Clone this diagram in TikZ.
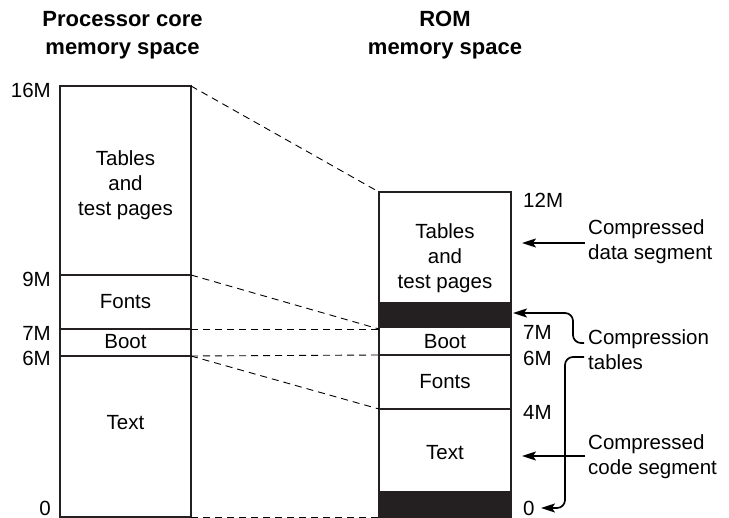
\documentclass[tikz,border=0pt]{standalone}
\usepackage{fontspec}
\setmainfont{Liberation Sans}
\usetikzlibrary{arrows.meta,positioning,calc}
\definecolor{romink}{rgb}{0.14,0.12,0.13}

\begin{document}
\begin{tikzpicture}[x=1pt,y=-1pt,font=\fontsize{20.5}{25}\selectfont,
  memtxt/.style={align=center,inner sep=0pt},
  title/.style={align=center,inner sep=0pt,font=\fontsize{22}{28}\selectfont\bfseries},
  addr/.style={inner sep=0pt},
  mapline/.style={line width=0.9pt,dash pattern=on 7pt off 5pt},
  arr/.style={-{Stealth[length=14pt,width=9pt,inset=3pt]},line width=1.7pt}]
  \useasboundingbox (0,0) rectangle (729,518);
  % processor core map
  \draw[romink,line width=2pt] (60,86) rectangle (191,517);
  \foreach \y in {275,329,356} \draw[romink,line width=1.6pt] (60,\y) -- (191,\y);
  % ROM map
  \fill[romink] (379,302) rectangle (511,328);
  \fill[romink] (379,491) rectangle (511,517);
  \draw[romink,line width=2pt] (379,192) rectangle (511,517);
  \foreach \y in {355,409} \draw[romink,line width=1.6pt] (379,\y) -- (511,\y);

  \node[title] (ptitle) at (122.5,35) {Processor core\\memory space};
  \node[title] (rtitle) at (445,35) {ROM\\memory space};

  \node[memtxt] (ptab) at (125.5,185) {Tables\\and\\test pages};
  \node[memtxt] (pfont) at (125.5,302) {Fonts};
  \node[memtxt] (pboot) at (125.5,342) {Boot};
  \node[memtxt] (ptext) at (125.5,423) {Text};
  \node[memtxt] (rtab) at (445,258) {Tables\\and\\test pages};
  \node[memtxt] (rboot) at (445,342) {Boot};
  \node[memtxt] (rfont) at (445,382) {Fonts};
  \node[memtxt] (rtext) at (445,453) {Text};

  % addresses
  \foreach \n/\a/\y in {p16/16M/90,p9/9M/279,p7/7M/333,p6/6M/358,p0/0/508}
    \node[addr,anchor=east] (\n) at (51,\y) {\a};
  \foreach \n/\a/\y in {r12/12M/200,r7/7M/332,r6/6M/358,r4/4M/412,r0/0/508}
    \node[addr,anchor=west] (\n) at (523,\y) {\a};

  % mapping between the two spaces
  \coordinate (lp16) at (191,86);  \coordinate (rp12) at (379,192);
  \coordinate (lp9) at (191,275);  \coordinate (rp7) at (379,329);
  \coordinate (lp7) at (191,329);  \coordinate (rp6) at (379,355);
  \coordinate (lp6) at (191,356);  \coordinate (rp4) at (379,409);
  \coordinate (lp0) at (191,517);  \coordinate (rp0) at (379,517);
  \draw[mapline] (lp16) -- (rp12);
  \draw[mapline] (lp9) -- (rp7);
  \draw[mapline] (lp7) -- (rp7);
  \draw[mapline] (lp6) -- (rp6);
  \draw[mapline] (lp6) -- (rp4);
  \draw[mapline] (lp0) -- (rp0);

  % callouts
  \node[memtxt,align=left,anchor=west] (cdata) at (588,242) {Compressed\\data segment};
  \node[memtxt,align=left,anchor=west] (ctab) at (588,350) {Compression\\tables};
  \node[memtxt,align=left,anchor=west] (ccode) at (588,457) {Compressed\\code segment};
  \coordinate (datatip) at (522,243);
  \coordinate (codetip) at (522,456);
  \coordinate (bandtip) at (513,313);
  \coordinate (zerotip) at (541,508);
  \coordinate (ctabA) at (584,343);
  \coordinate (ctabB) at (584,357);
  \draw[arr] (cdata.west |- datatip) ++(-3,0) -- (datatip);
  \draw[arr] (ccode.west |- codetip) ++(-3,0) -- (codetip);
  \draw[arr,rounded corners=8pt] (ctabA) -| (573,313) -- (bandtip);
  \draw[arr,rounded corners=8pt] (ctabB) -| (565,508) -- (zerotip);
\end{tikzpicture}
\end{document}
